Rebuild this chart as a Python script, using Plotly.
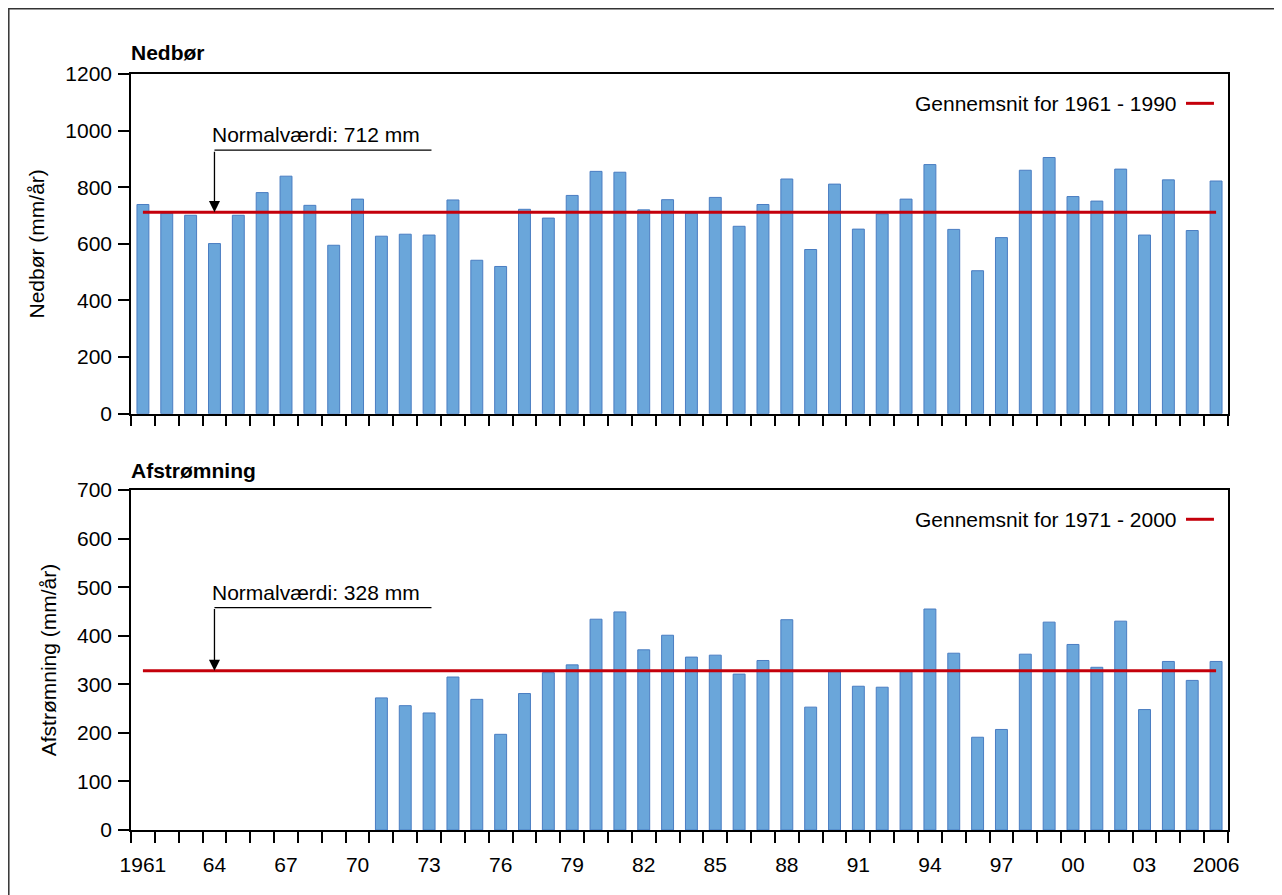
import plotly.graph_objects as go
from plotly.subplots import make_subplots

# Data
years = list(range(1961, 2007))
nedbor = [739, 708, 701, 601, 701, 781, 839, 736, 595, 758,
          627, 634, 631, 755, 542, 520, 722, 691, 771, 856,
          853, 720, 756, 708, 764, 662, 739, 829, 580, 811,
          652, 706, 758, 880, 651, 505, 622, 860, 905, 767,
          751, 864, 631, 826, 647, 822]
afstr_years = list(range(1971, 2007))
afstromning = [272, 256, 241, 315, 269, 197, 281, 324, 340, 434,
               449, 371, 401, 356, 360, 321, 349, 433, 253, 326,
               296, 294, 327, 455, 364, 191, 207, 362, 428, 382,
               335, 430, 248, 347, 308, 347]
normal_nedbor = 712
normal_afstr = 328
tick_years = list(range(1961, 2007, 3))
tick_labels = ["1961", "64", "67", "70", "73", "76", "79", "82", "85",
               "88", "91", "94", "97", "00", "03", "2006"]

FONT = "Liberation Sans, Arial, Helvetica, sans-serif"
BAR = "#6aa6da"
BAR_EDGE = "#4a7dc2"
RED = "#c4000b"
FS = 21

fig = make_subplots(rows=2, cols=1, vertical_spacing=0.1)

fig.add_trace(go.Bar(x=years, y=nedbor, marker=dict(color=BAR, line=dict(color=BAR_EDGE, width=1)),
                     showlegend=False), row=1, col=1)
fig.add_trace(go.Scatter(x=[years[0], years[-1]], y=[normal_nedbor] * 2, mode="lines",
                         line=dict(color=RED, width=3), showlegend=False), row=1, col=1)

fig.add_trace(go.Bar(x=afstr_years, y=afstromning, marker=dict(color=BAR, line=dict(color=BAR_EDGE, width=1)),
                     showlegend=False), row=2, col=1)
fig.add_trace(go.Scatter(x=[years[0], years[-1]], y=[normal_afstr] * 2, mode="lines",
                         line=dict(color=RED, width=3), showlegend=False), row=2, col=1)

xcommon = dict(range=[1960.5, 2006.5], showline=True, linecolor="black", linewidth=1.5, mirror=True,
               showgrid=False, zeroline=False)
fig.update_xaxes(**xcommon, tickmode="linear", tick0=1960.5, dtick=1, ticks="outside", ticklen=11,
                 tickcolor="black", tickwidth=1.5, showticklabels=False, row=1, col=1)
fig.update_xaxes(**xcommon, tickmode="array", tickvals=tick_years, ticktext=tick_labels, ticks="",
                 ticklabelstandoff=15, tickfont=dict(size=FS),
                 minor=dict(tickmode="linear", tick0=1960.5, dtick=1, ticks="outside", ticklen=11,
                            tickcolor="black", tickwidth=1.5),
                 row=2, col=1)

ycommon = dict(showline=True, linecolor="black", linewidth=1.5, mirror=True, showgrid=False,
               zeroline=False, ticks="outside", ticklen=11, tickcolor="black", tickwidth=1.5,
               ticklabelstandoff=2, tickfont=dict(size=FS), title_standoff=15,
               title_font=dict(size=21))
fig.update_yaxes(**ycommon, range=[0, 1200], dtick=200, title_text="Nedbør (mm/år)", row=1, col=1)
fig.update_yaxes(**ycommon, range=[0, 700], dtick=100, title_text="Afstrømning (mm/år)", row=2, col=1)

fig.update_layout(
    width=1274, height=887,
    margin=dict(l=123, r=54, t=66, b=65),
    paper_bgcolor="white", plot_bgcolor="white",
    bargap=0.5,
    font=dict(family=FONT, size=FS, color="black"),
    xaxis=dict(domain=[0, 1]),
    yaxis=dict(domain=[0.5507, 1]),
    yaxis2=dict(domain=[0, 0.4497]),
)

# panel titles
fig.add_annotation(text="<b>Nedbør</b>", xref="paper", yref="paper", x=-0.002, y=1.028,
                   xanchor="left", yanchor="middle", showarrow=False, font=dict(size=21))
fig.add_annotation(text="<b>Afstrømning</b>", xref="paper", yref="paper", x=-0.002, y=0.4753,
                   xanchor="left", yanchor="middle", showarrow=False, font=dict(size=21))

# legend-like labels with red segments
for ytxt, label in [(0.9612, "Gennemsnit for 1961 - 1990"), (0.411, "Gennemsnit for 1971 - 2000")]:
    fig.add_annotation(text=label, xref="paper", yref="paper", x=0.9555, y=ytxt,
                       xanchor="right", yanchor="middle", showarrow=False, font=dict(size=FS))
    fig.add_shape(type="line", xref="paper", yref="paper", x0=0.9617, x1=0.9872, y0=ytxt, y1=ytxt,
                  line=dict(color=RED, width=3))

# "Normalværdi" callouts
for xr, yr, normal, top, ltxt in [("x", "y", normal_nedbor, 931, 988),
                                   ("x2", "y2", normal_afstr, 458, 488)]:
    fig.add_annotation(text="", x=1964, y=normal, ax=1964, ay=top, xref=xr, yref=yr,
                       axref=xr, ayref=yr, showarrow=True, arrowhead=2, arrowsize=1.7,
                       arrowwidth=1.3, arrowcolor="black")
    fig.add_shape(type="line", xref=xr, yref=yr, x0=1964, x1=1973.1, y0=top, y1=top,
                  line=dict(color="black", width=1.3))
    fig.add_annotation(text=f"Normalværdi: {normal} mm", x=1963.8, y=ltxt, xref=xr, yref=yr,
                       xanchor="left", yanchor="middle", showarrow=False, font=dict(size=FS))

# outer frame (left and top edges visible)
fig.add_shape(type="rect", xref="paper", yref="paper", x0=-0.1114, x1=1.2, y0=-0.2, y1=1.0863,
              line=dict(color="#333333", width=1.5))

fig.write_html("out.html")
